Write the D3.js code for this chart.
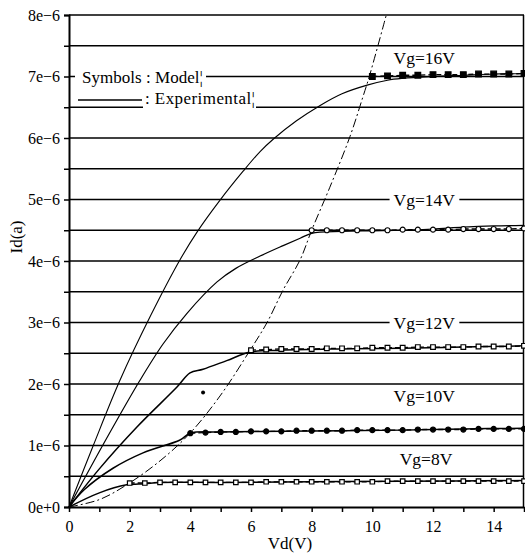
<!DOCTYPE html>
<html><head><meta charset="utf-8">
<script src="https://cdn.jsdelivr.net/npm/d3@7"></script>
<style>
body{margin:0;background:#fff;}
text{font-family:"Liberation Serif","DejaVu Serif",serif !important;}
</style></head>
<body><svg id="c" width="525" height="554"></svg>
<script>
// ---- data (Id in units of 1e-6 A, Vd in V) ----
const xTicks = [0,1,2,3,4,5,6,7,8,9,10,11,12,13,14,15];
const xTickLabels = [0,2,4,6,8,10,12,14];
const yTicks = [0,0.5,1,1.5,2,2.5,3,3.5,4,4.5,5,5.5,6,6.5,7,7.5,8];
const yTickLabels = ["0e+0","1e\u22126","2e\u22126","3e\u22126","4e\u22126","5e\u22126","6e\u22126","7e\u22126","8e\u22126"];

const exp16 = [[0,0],[0.8,1.0],[1.68,2.06],[2.7,3.12],[3.66,4.02],[4.22,4.47],[4.98,4.99],[5.74,5.46],[6.3,5.78],[6.73,5.98],[7.5,6.28],[8.28,6.53],[9.0,6.72],[9.83,6.86],[10.5,6.94],[11,6.97],[12,7.0],[13,7.02],[14,7.04],[15,7.05]];
const exp14 = [[0,0],[1.2,1.08],[2.34,2.06],[3.1,2.65],[3.89,3.15],[4.88,3.66],[5.5,3.88],[6.3,4.08],[7.06,4.25],[7.62,4.37],[8.0,4.45],[9,4.48],[10,4.49],[11,4.5],[12,4.52],[13,4.55],[14,4.57],[15,4.58]];
const exp12 = [[0,0],[1.0,0.62],[2.24,1.3],[3.56,1.95],[3.99,2.18],[4.42,2.24],[5.2,2.38],[5.97,2.52],[7,2.55],[9,2.57],[11,2.58],[13,2.6],[15,2.62]];
const exp10 = [[0,0],[0.5,0.28],[1.45,0.63],[2.44,0.88],[3.66,1.09],[4.0,1.2],[5,1.22],[7,1.23],[9,1.24],[11,1.25],[13,1.27],[15,1.28]];
const exp8  = [[0,0],[1.0,0.23],[1.9,0.36],[2.5,0.38],[3,0.4],[5,0.4],[8,0.41],[11,0.42],[15,0.43]];

const vdModel16 = [10,10.5,11,11.5,12,12.5,13,13.5,14,14.5,15];
const idModel16 = [7.0,7.01,7.02,7.02,7.03,7.03,7.03,7.04,7.04,7.04,7.05];
const vdModel14 = [8,8.5,9,9.5,10,10.5,11,11.5,12,12.5,13,13.5,14,14.5,15];
const idModel14 = [4.5,4.5,4.5,4.5,4.5,4.5,4.51,4.51,4.51,4.51,4.52,4.52,4.52,4.52,4.53];
const vdModel12 = [6,6.5,7,7.5,8,8.5,9,9.5,10,10.5,11,11.5,12,12.5,13,13.5,14,14.5,15];
const idModel12 = [2.55,2.56,2.57,2.57,2.57,2.58,2.58,2.58,2.59,2.59,2.59,2.6,2.6,2.6,2.6,2.61,2.61,2.61,2.62];
const vdModel10 = [4,4.5,5,5.5,6,6.5,7,7.5,8,8.5,9,9.5,10,10.5,11,11.5,12,12.5,13,13.5,14,14.5,15];
const idModel10 = [1.2,1.21,1.22,1.22,1.23,1.23,1.23,1.24,1.24,1.24,1.24,1.25,1.25,1.25,1.25,1.26,1.26,1.26,1.26,1.27,1.27,1.27,1.27];
const vdModel8 = [2,2.5,3,3.5,4,4.5,5,5.5,6,6.5,7,7.5,8,8.5,9,9.5,10,10.5,11,11.5,12,12.5,13,13.5,14,14.5,15];
const idModel8 = [0.39,0.39,0.4,0.4,0.4,0.4,0.4,0.4,0.4,0.41,0.41,0.41,0.41,0.41,0.41,0.41,0.41,0.42,0.42,0.42,0.42,0.42,0.42,0.42,0.42,0.42,0.42];
const strayPoint = [[4.42,1.86]];

const satLocus = [[0,0],[1.0,0.12],[1.9,0.36],[3.0,0.75],[3.99,1.2],[5.0,1.82],[5.97,2.55],[6.53,3.0],[7.06,3.53],[7.62,4.02],[8.0,4.5],[8.6,5.2],[9.26,6.02],[9.69,6.67],[9.9,7.0],[10.46,8.0]];

const vgLabels = ["Vg=16V","Vg=14V","Vg=12V","Vg=10V","Vg=8V"];
const vgLabelPos = [[10.7,7.3],[10.7,5.0],[10.7,3.0],[10.7,1.8],[10.9,0.78]];

// ---- drawing ----
const svg = d3.select("#c");
const x = d3.scaleLinear().domain([0,15]).range([69,524]);
const y = d3.scaleLinear().domain([0,8]).range([507,15]);

const grid = svg.append("g");
yTicks.filter(d=>d>0).forEach(d=>{
  grid.append("line").attr("x1",x(0)).attr("x2",x(15)).attr("y1",y(d)).attr("y2",y(d))
    .attr("stroke","#000").attr("stroke-width",1.6);
});
svg.append("line").attr("x1",x(15)-0.5).attr("x2",x(15)-0.5).attr("y1",y(8)).attr("y2",y(0))
  .attr("stroke","#000").attr("stroke-width",1.5);

const gaps = svg.append("g");
gaps.append("rect").attr("x",75).attr("y",y(7)-9).attr("width",131).attr("height",17).attr("fill","#fff");
gaps.append("rect").attr("x",143).attr("y",y(6.5)-16).attr("width",113).attr("height",22).attr("fill","#fff");

const line = d3.line().x(d=>x(d[0])).y(d=>y(d[1]));
const smooth = d3.line().x(d=>x(d[0])).y(d=>y(d[1])).curve(d3.curveCatmullRom.alpha(0.5));

svg.append("path").datum(satLocus).attr("d",smooth).attr("fill","none")
  .attr("stroke","#000").attr("stroke-width",1).attr("stroke-dasharray","9,3,2,3");

[[exp16,1.1],[exp14,1.2],[exp12,1.5],[exp10,1.5],[exp8,1.5]].forEach(([d,w])=>{
  svg.append("path").datum(d).attr("d",smooth)
    .attr("fill","none").attr("stroke","#000").attr("stroke-width",w);
});

const models = [
  [vdModel16,idModel16,d3.symbolSquare,32,true],
  [vdModel14,idModel14,d3.symbolCircle,20,false],
  [vdModel12,idModel12,d3.symbolSquare,22,false],
  [vdModel10,idModel10,d3.symbolCircle,20,true],
  [vdModel8,idModel8,d3.symbolSquare,20,false]
];
models.forEach(([vx,vy,sym,size,filled])=>{
  const pts = vx.map((v,i)=>[v,vy[i]]);
  svg.append("path").datum(pts).attr("d",line).attr("fill","none")
    .attr("stroke","#000").attr("stroke-width",1.3).attr("stroke-dasharray","5,3");
  svg.append("g").selectAll("path").data(pts).join("path")
    .attr("transform",d=>`translate(${x(d[0])},${y(d[1])})`)
    .attr("d",d3.symbol().type(sym).size(size))
    .attr("fill",filled?"#000":"#fff").attr("stroke","#000").attr("stroke-width",1.2);
});
svg.append("g").selectAll("circle").data(strayPoint).join("circle")
  .attr("cx",d=>x(d[0])).attr("cy",d=>y(d[1])).attr("r",2).attr("fill","#000");

vgLabels.forEach((t,i)=>{
  const [vx,vy]=vgLabelPos[i];
  const g = svg.append("g");
  const bg = g.append("rect").attr("fill","#fff");
  const tx = g.append("text").attr("x",x(vx)).attr("y",y(vy)+6).attr("font-size",17.5).text(t);
  const bb = tx.node().getBBox();
  bg.attr("x",bb.x-4).attr("y",bb.y+2).attr("width",bb.width+8).attr("height",bb.height-4);
});

svg.append("text").attr("x",82).attr("y",y(7)+6).attr("font-size",17).attr("textLength",121).text("Symbols : Model\u00a6");
svg.append("line").attr("x1",78).attr("x2",142).attr("y1",100).attr("y2",100).attr("stroke","#000").attr("stroke-width",1.5);
svg.append("text").attr("x",145).attr("y",y(6.5)-3).attr("font-size",17).attr("textLength",110).text(": Experimental\u00a6");

const yAxis = d3.axisLeft(y).tickValues(yTicks).tickSize(5)
  .tickFormat(d=>Number.isInteger(d)?yTickLabels[d]:"");
const ya = svg.append("g").attr("transform",`translate(${x(0)},0)`).call(yAxis);
ya.select(".domain").attr("stroke-width",2);
ya.selectAll(".tick line").attr("stroke-width",1.5);
ya.selectAll("text").attr("font-size",16).attr("dx",-1);

const xAxis = d3.axisBottom(x).tickValues(xTicks).tickSize(5).tickSizeOuter(0)
  .tickFormat(d=>xTickLabels.includes(d)?String(d):"");
const xa = svg.append("g").attr("transform",`translate(0,${y(0)})`).call(xAxis);
xa.select(".domain").attr("stroke-width",2);
xa.selectAll(".tick line").attr("stroke-width",1.5);
xa.selectAll("text").attr("font-size",16).attr("dy","1.05em");

svg.append("text").attr("x",290).attr("y",549).attr("text-anchor","middle").attr("font-size",17).text("Vd(V)");
svg.append("text").attr("transform","translate(22,237) rotate(-90)").attr("text-anchor","middle").attr("font-size",17).text("Id(a)");
</script></body></html>
